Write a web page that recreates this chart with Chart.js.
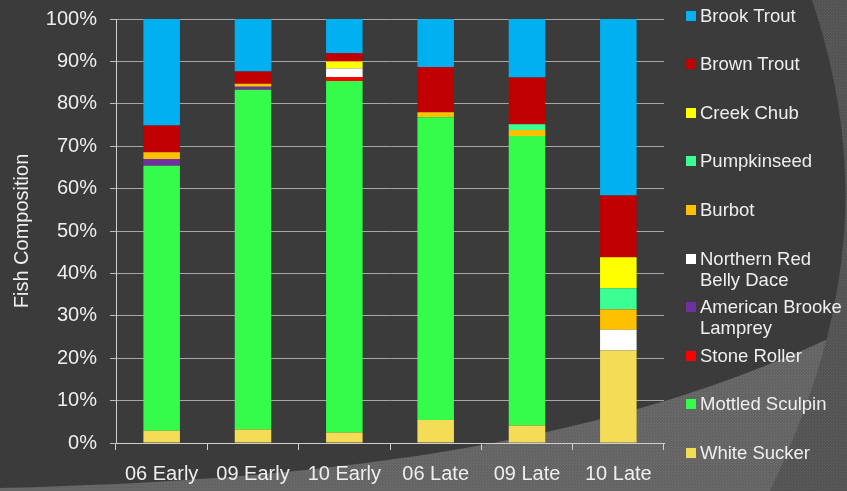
<!DOCTYPE html>
<html>
<head>
<meta charset="utf-8">
<script src="https://cdn.jsdelivr.net/npm/chart.js@4/dist/chart.umd.min.js"></script>
<style>
  html, body { margin: 0; padding: 0; background: #3b3b3b; }
  #wrap { position: relative; width: 847px; height: 491px; overflow: hidden; }
  #legend { position: absolute; left: 0; top: 0; font-family: "Liberation Sans", Arial, sans-serif; font-size: 18.5px; color: #eeeeee; }
  .item { position: absolute; left: 686px; width: 161px; line-height: 21px; }
  .item .box { position: absolute; left: 0; top: 6px; width: 10px; height: 10px; }
  .item .txt { position: absolute; left: 14px; width: 147px; }
</style>
</head>
<body>
<div id="wrap">
  <canvas id="chart" width="847" height="491"></canvas>
  <div id="legend"></div>
</div>
<script>
// data, in percent of the catch
const samples = ['06 Early', '09 Early', '10 Early', '06 Late', '09 Late', '10 Late'];

const whiteSucker    = [2.9, 3.2, 2.5, 5.4, 4.1, 21.8];
const mottledSculpin = [62.5, 80.1, 82.9, 71.4, 68.3, 0];
const stoneRoller    = [0, 0, 0.9, 0, 0, 0];
const lamprey        = [1.6, 0.7, 0, 0, 0, 0];
const redBellyDace   = [0, 0, 2.0, 0, 0, 4.9];
const burbot         = [1.6, 0.7, 0, 1.2, 1.4, 4.8];
const pumpkinseed    = [0, 0, 0, 0, 1.4, 5.0];
const creekChub      = [0, 0, 1.7, 0, 0, 7.3];
const brownTrout     = [6.3, 2.9, 1.9, 10.7, 11.0, 14.6];
const brookTrout     = [25.1, 12.4, 8.1, 11.3, 13.8, 41.6];

const yTicks = [0, 10, 20, 30, 40, 50, 60, 70, 80, 90, 100];

// bottom of stack first
const series = [
  { label: 'White Sucker', data: whiteSucker, color: '#f5dc57' },
  { label: 'Mottled Sculpin', data: mottledSculpin, color: '#35fc4b' },
  { label: 'Stone Roller', data: stoneRoller, color: '#ff0000' },
  { label: 'American Brooke Lamprey', data: lamprey, color: '#7030a0' },
  { label: 'Northern Red Belly Dace', data: redBellyDace, color: '#ffffff' },
  { label: 'Burbot', data: burbot, color: '#ffc000' },
  { label: 'Pumpkinseed', data: pumpkinseed, color: '#3cff94' },
  { label: 'Creek Chub', data: creekChub, color: '#ffff00' },
  { label: 'Brown Trout', data: brownTrout, color: '#c00000' },
  { label: 'Brook Trout', data: brookTrout, color: '#00b0f0' }
];

const FONT = '"Liberation Sans", Arial, sans-serif';
const TEXT = '#eeeeee';

function makePattern(ctx, base, dot) {
  const c = document.createElement('canvas');
  c.width = 3; c.height = 3;
  const g = c.getContext('2d');
  g.fillStyle = base; g.fillRect(0, 0, 3, 3);
  g.fillStyle = dot; g.fillRect(0, 0, 1, 1); g.fillRect(2, 2, 1, 1);
  return ctx.createPattern(c, 'repeat');
}

// slide background with the swooshes in the corner
const backdrop = {
  id: 'backdrop',
  beforeDraw(chart) {
    const ctx = chart.ctx;
    ctx.save();
    ctx.fillStyle = '#3b3b3b';
    ctx.fillRect(0, 0, chart.width, chart.height);

    ctx.beginPath();
    ctx.moveTo(0, 488);
    ctx.bezierCurveTo(350, 480, 620, 440, 847, 330);
    ctx.lineTo(847, 491);
    ctx.lineTo(0, 491);
    ctx.closePath();
    ctx.fillStyle = makePattern(ctx, '#636363', '#707070');
    ctx.fill();

    ctx.beginPath();
    ctx.moveTo(812, 0);
    ctx.bezierCurveTo(862, 150, 862, 300, 770, 491);
    ctx.lineTo(847, 491);
    ctx.lineTo(847, 0);
    ctx.closePath();
    ctx.fillStyle = makePattern(ctx, '#535353', '#5e5e5e');
    ctx.fill();
    ctx.restore();
  }
};

const ctx = document.getElementById('chart').getContext('2d');
const chart = new Chart(ctx, {
  type: 'bar',
  data: {
    labels: samples,
    datasets: series.map(s => ({
      label: s.label,
      data: s.data,
      backgroundColor: s.color,
      borderWidth: 0,
      barPercentage: 0.4,
      categoryPercentage: 1
    }))
  },
  options: {
    responsive: false,
    animation: false,
    layout: { padding: { left: 0, top: 19, right: 183, bottom: 0 } },
    plugins: { legend: { display: false }, tooltip: { enabled: false } },
    scales: {
      x: {
        stacked: true,
        border: { display: true, color: '#cfcfcf', width: 1 },
        grid: { display: true, offset: true, drawOnChartArea: false, tickLength: 7, tickColor: '#cfcfcf' },
        ticks: { color: TEXT, font: { family: FONT, size: 20 }, padding: 12, maxRotation: 0 },
        afterFit(scale) { scale.height = 48; scale.paddingLeft = 0; scale.paddingRight = 0; }
      },
      y: {
        stacked: true,
        min: 0,
        max: 100,
        afterBuildTicks(scale) { scale.ticks = yTicks.map(v => ({ value: v })); },
        border: { display: true, color: '#cfcfcf', width: 1 },
        grid: {
          color: '#a6a6a6', lineWidth: 1, borderDash: [4, 3],
          tickLength: 6, tickColor: '#bdbdbd', tickBorderDash: []
        },
        ticks: { color: TEXT, font: { family: FONT, size: 20 }, padding: 13, callback: v => v + '%' },
        title: { display: true, text: 'Fish Composition', color: TEXT, font: { family: FONT, size: 20 }, padding: { top: 10, bottom: 0 } },
        afterFit(scale) { scale.width = 116; scale.paddingTop = 0; scale.paddingBottom = 0; }
      }
    }
  },
  plugins: [backdrop]
});

// legend on the right, top entry first
const legend = document.getElementById('legend');
series.slice().reverse().forEach((s, i) => {
  const item = document.createElement('div');
  item.className = 'item';
  item.style.top = (15 + i * 48.6 - 10.5) + 'px';
  item.innerHTML = '<span class="box" style="background:' + s.color + '"></span><span class="txt">' + s.label + '</span>';
  legend.appendChild(item);
});
</script>
</body>
</html>
